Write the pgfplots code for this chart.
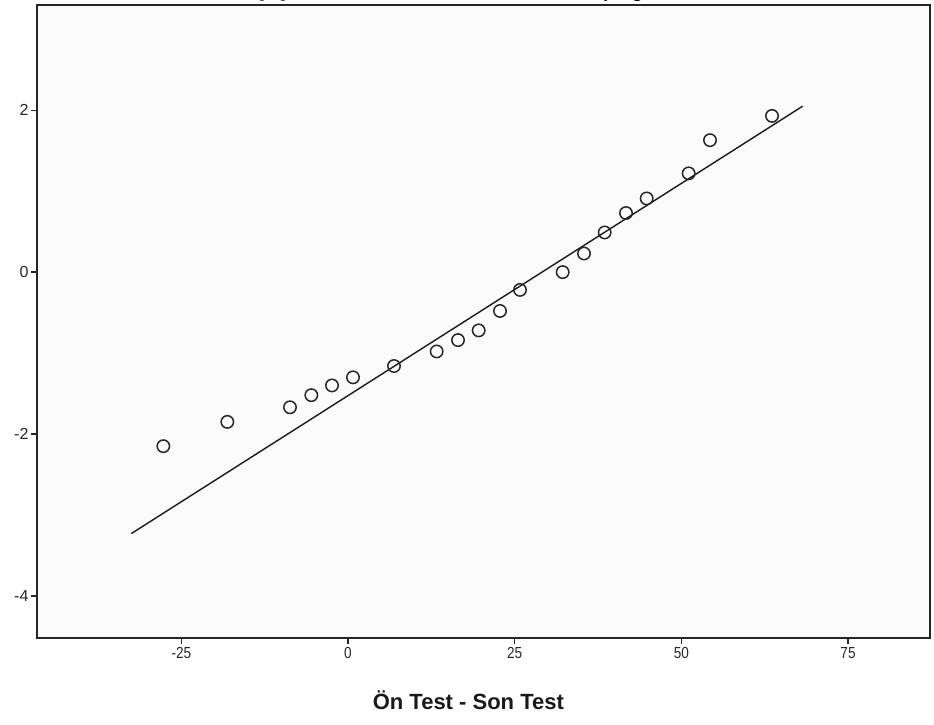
\documentclass[border=0pt]{standalone}
\usepackage{pgfplots}
\pgfplotsset{compat=1.18}
\usepackage{fontspec}
\setmainfont{Liberation Sans}
\begin{document}
\begin{tikzpicture}[x=1pt,y=1pt]
\fill[white] (0,0) rectangle (934,725);
\begin{axis}[
  at={(37pt,87pt)}, anchor=south west,
  width=893pt, height=633pt, scale only axis,
  xmin=-46.65, xmax=87.3, ymin=-4.52, ymax=3.30,
  xtick={-25,0,25,50,75}, ytick={-4,-2,0,2},
  tick align=outside, major tick length=6pt,
  xtick pos=bottom, ytick pos=left,
  axis line style={line width=1.4pt, black!85},
  every tick/.style={line width=1.3pt, black!85},
  axis background/.style={fill=black!2},
  /pgf/number format/assume math mode=true,
  tick label style={font=\fontsize{16}{19}\selectfont, text=black!85},
  xticklabel style={xscale=0.85},
  yticklabel style={xshift=1pt},
  xlabel={Ön Test - Son Test},
  xlabel style={at={(axis description cs:0.483,0)}, anchor=base, yshift=-72pt, font=\bfseries\fontsize{22}{26}\selectfont, text=black!90},
  title={Normal Q-Q Plot of Ön Test - Son Test for Grouping: Kontrol Grubu},
  title style={at={(axis description cs:0.5,1)}, anchor=base, yshift=1pt, font=\bfseries\fontsize{19}{22}\selectfont},
]
\addplot[black!90, line width=1.4pt] coordinates {(-32.5,-3.23) (68.2,2.05)};
\addplot[only marks, mark=o, mark size=6.2pt, mark options={line width=1.5pt, black!85}] coordinates {
(-27.7,-2.15) (-18.1,-1.85) (-8.7,-1.67) (-5.5,-1.52) (-2.4,-1.40)
(0.75,-1.30) (6.9,-1.16) (13.3,-0.98) (16.5,-0.84) (19.6,-0.72)
(22.8,-0.48) (25.8,-0.22) (32.2,0.0) (35.4,0.23) (38.5,0.49)
(41.7,0.73) (44.8,0.91) (51.1,1.22) (54.3,1.63) (63.6,1.93)
};
\end{axis}
\pgfresetboundingbox
\useasboundingbox (0,0) rectangle (934,725);
\end{tikzpicture}
\end{document}
